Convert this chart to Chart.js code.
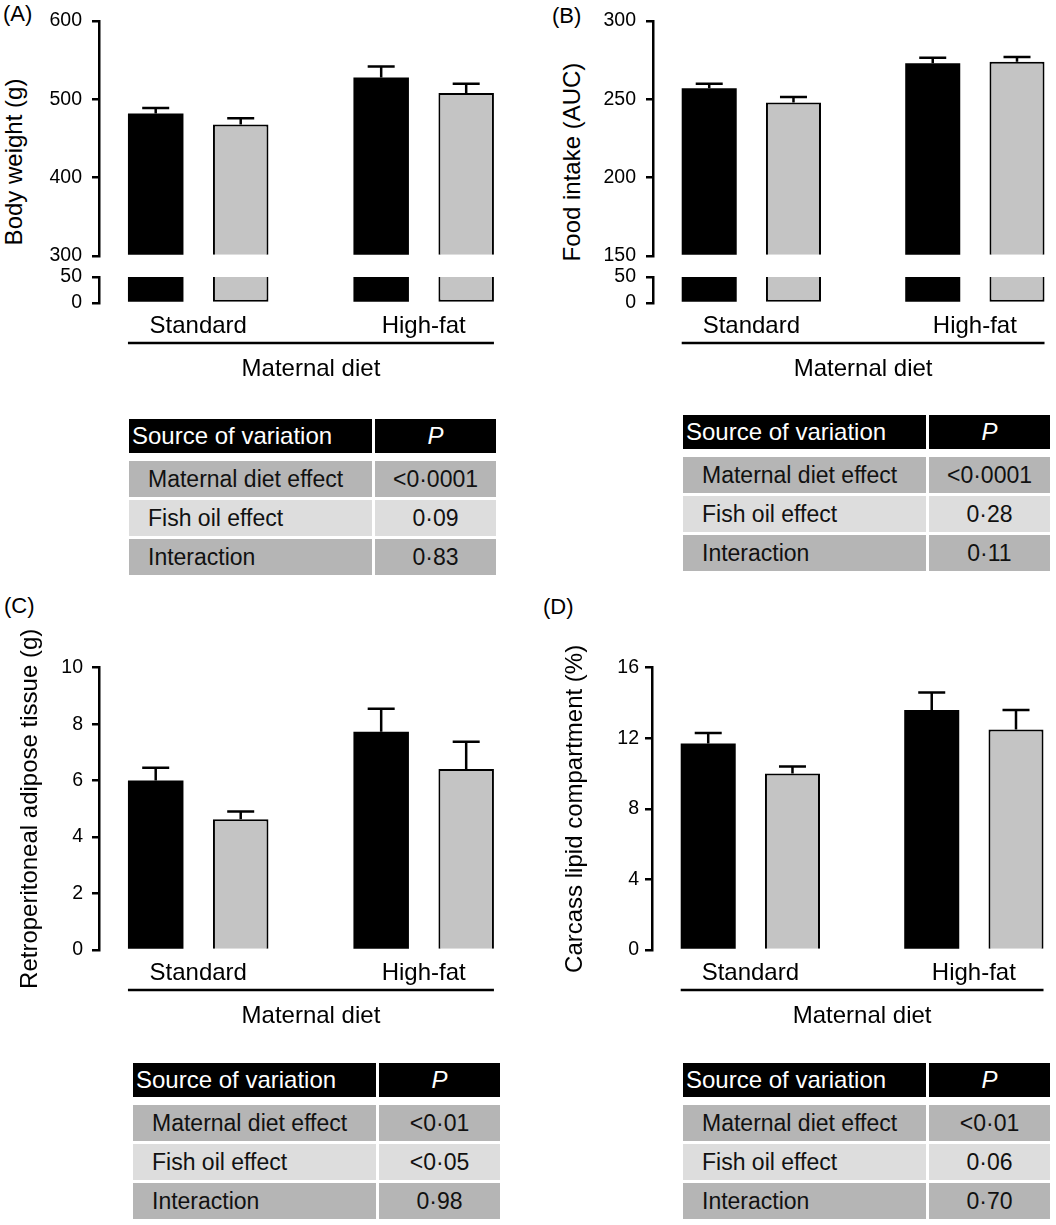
<!DOCTYPE html>
<html><head><meta charset="utf-8">
<script src="https://cdn.jsdelivr.net/npm/chart.js@4.4.1/dist/chart.umd.min.js"></script>
<style>
html,body{margin:0;padding:0;background:#fff;}
body{width:1056px;height:1225px;position:relative;overflow:hidden;font-family:'Liberation Sans',Arial,Helvetica,sans-serif;color:#000;}
canvas{position:absolute;}
.lab{position:absolute;font-size:22px;line-height:1;}
.ytitle{position:absolute;font-size:24px;line-height:1;white-space:nowrap;transform:translate(-50%,-50%) rotate(-90deg);}
.cell{position:absolute;box-sizing:border-box;display:flex;align-items:center;white-space:nowrap;}
</style></head><body>
<div class="lab" style="left:3px;top:3px;">(A)</div>
<div class="lab" style="left:552px;top:5px;">(B)</div>
<div class="lab" style="left:4px;top:595px;">(C)</div>
<div class="lab" style="left:543px;top:596px;">(D)</div>
<div class="ytitle" style="left:14px;top:162px;">Body weight (g)</div>
<div class="ytitle" style="left:572px;top:162px;">Food intake (AUC)</div>
<script>
// ---------- data ----------
const categories = ['Standard', 'High-fat'];
const seriesNames = ['Control', 'Fish oil'];
const groupTitle = 'Maternal diet';

// (A) Body weight (g)
const bodyWeightControl = [482, 528];
const bodyWeightFishOil = [468, 508];
const bodyWeightControlSE = [7, 14];
const bodyWeightFishOilSE = [8, 12];
const bodyWeightTicksUpper = [300, 400, 500, 600];
const bodyWeightTicksLower = [0, 50];

// (B) Food intake (AUC)
const foodIntakeControl = [257, 273];
const foodIntakeFishOil = [248, 274];
const foodIntakeControlSE = [3, 3.5];
const foodIntakeFishOilSE = [3.5, 3];
const foodIntakeTicksUpper = [150, 200, 250, 300];
const foodIntakeTicksLower = [0, 50];

// (C) Retroperitoneal adipose tissue (g)
const adiposeControl = [6.0, 7.73];
const adiposeFishOil = [4.63, 6.41];
const adiposeControlSE = [0.46, 0.82];
const adiposeFishOilSE = [0.28, 0.97];
const adiposeTicks = [0, 2, 4, 6, 8, 10];

// (D) Carcass lipid compartment (%)
const lipidControl = [11.7, 13.6];
const lipidFishOil = [10.0, 12.5];
const lipidControlSE = [0.6, 1.0];
const lipidFishOilSE = [0.4, 1.1];
const lipidTicks = [0, 4, 8, 12, 16];

// ANOVA tables
const tableHeader = ['Source of variation', 'P'];
const sources = ['Maternal diet effect', 'Fish oil effect', 'Interaction'];
const pValuesA = ['<0·0001', '0·09', '0·83'];
const pValuesB = ['<0·0001', '0·28', '0·11'];
const pValuesC = ['<0·01', '<0·05', '0·98'];
const pValuesD = ['<0·01', '0·06', '0·70'];

// ---------- drawing ----------
Chart.defaults.font.family = "'Liberation Sans', Arial, Helvetica, sans-serif";
Chart.defaults.color = '#000';

const errorBarsPlugin = {
  id: 'errorBars',
  afterDatasetsDraw(chart, args, opts) {
    const ctx = chart.ctx;
    chart.data.datasets.forEach((ds, di) => {
      if (!ds.errors) return;
      const meta = chart.getDatasetMeta(di);
      const yScale = chart.scales[meta.yAxisID];
      meta.data.forEach((bar, i) => {
        const v = ds.data[i].y;
        const top = yScale.getPixelForValue(v + ds.errors[i]);
        ctx.save();
        ctx.strokeStyle = '#000';
        ctx.lineWidth = opts.lineWidth;
        ctx.beginPath();
        ctx.moveTo(bar.x, bar.y);
        ctx.lineTo(bar.x, top);
        ctx.moveTo(bar.x - opts.capHalf, top);
        ctx.lineTo(bar.x + opts.capHalf, top);
        ctx.stroke();
        ctx.restore();
      });
    });
  }
};

const groupAxisPlugin = {
  id: 'groupAxis',
  afterDraw(chart, args, opts) {
    if (!opts || !opts.text) return;
    let l = Infinity, r = -Infinity;
    chart.getSortedVisibleDatasetMetas().forEach(m => m.data.forEach(b => {
      l = Math.min(l, b.x - b.width / 2);
      r = Math.max(r, b.x + b.width / 2);
    }));
    const ctx = chart.ctx;
    const yl = chart.chartArea.bottom + opts.lineOffset;
    ctx.save();
    ctx.strokeStyle = '#000';
    ctx.lineWidth = 2.5;
    ctx.beginPath();
    ctx.moveTo(l, yl);
    ctx.lineTo(r, yl);
    ctx.stroke();
    ctx.fillStyle = '#000';
    ctx.font = "24px 'Liberation Sans', Arial, sans-serif";
    ctx.textAlign = 'center';
    ctx.textBaseline = 'middle';
    ctx.fillText(opts.text, (l + r) / 2, chart.chartArea.bottom + opts.textOffset);
    ctx.restore();
  }
};

function addCanvas(left, top, w, h) {
  const c = document.createElement('canvas');
  c.width = w; c.height = h;
  c.style.left = left + 'px'; c.style.top = top + 'px';
  c.style.width = w + 'px'; c.style.height = h + 'px';
  document.body.appendChild(c);
  return c;
}

function makeChart(p) {
  const c = addCanvas(p.left, p.top, p.w, p.h);
  const yLo = p.yTicks[0], yHi = p.yTicks[p.yTicks.length - 1];
  const datasets = p.series.map((s, i) => ({
    label: seriesNames[i],
    data: s.vals.map((v, k) => ({ x: k, y: Math.min(v, yHi) })),
    errors: p.showErr ? s.se : null,
    backgroundColor: i === 0 ? '#000' : '#c4c4c4',
    borderColor: '#000',
    borderWidth: i === 0 ? 0 : 2,
    borderSkipped: p.skip,
    base: yLo,
    barPercentage: 0.653,
    categoryPercentage: 0.754
  }));
  return new Chart(c, {
    type: 'bar',
    data: { datasets },
    options: {
      responsive: false, animation: false, devicePixelRatio: 1,
      layout: { padding: { top: p.padTop, bottom: p.padBottom, left: 0, right: p.padRight } },
      plugins: {
        legend: { display: false }, tooltip: { enabled: false },
        errorBars: { lineWidth: 2.5, capHalf: 13.5 },
        groupAxis: p.group ? { text: groupTitle, lineOffset: 40, textOffset: 66 } : { text: null }
      },
      scales: {
        x: {
          type: 'linear', min: -0.44, max: 1.35, offset: false, display: p.showX,
          grid: { display: false, drawTicks: false }, border: { display: false },
          ticks: { stepSize: 1, includeBounds: false, autoSkip: false, maxRotation: 0, minRotation: 0,
                   padding: 9, font: { size: 24 }, color: '#000',
                   callback: v => (categories[v] !== undefined ? categories[v] : '') },
          afterFit: s => { s.height = p.xH; s.paddingLeft = 0; s.paddingRight = 0; }
        },
        y: {
          type: 'linear', min: yLo, max: yHi,
          afterBuildTicks: s => { s.ticks = p.yTicks.map(v => ({ value: v })); },
          grid: { drawOnChartArea: false, drawTicks: true, tickLength: 7, color: '#000', lineWidth: 2.5 },
          border: { display: true, color: '#000', width: 2.5 },
          ticks: { padding: p.tickPad, font: { size: 19.5 }, color: '#000', autoSkip: false },
          title: p.yTitle ? { display: true, text: p.yTitle, font: { size: 24 }, color: '#000',
                              padding: { top: p.titlePad, bottom: 0 } } : { display: false },
          afterFit: s => { s.width = p.yW; s.paddingTop = 0; s.paddingBottom = 0; }
        }
      }
    },
    plugins: [errorBarsPlugin, groupAxisPlugin]
  });
}

// (A) broken axis: upper and lower parts
makeChart({ left: 0, top: 0, w: 530, h: 272, padTop: 21, padBottom: 16, padRight: 27.4, yW: 99, xH: 0,
  showX: false, yTicks: bodyWeightTicksUpper, tickPad: 10, skip: 'start', showErr: true,
  series: [{ vals: bodyWeightControl, se: bodyWeightControlSE }, { vals: bodyWeightFishOil, se: bodyWeightFishOilSE }] });
makeChart({ left: 0, top: 262, w: 530, h: 133, padTop: 15, padBottom: 0, padRight: 27.4, yW: 99, xH: 92,
  showX: true, yTicks: bodyWeightTicksLower, tickPad: 10, skip: 'end', showErr: false, group: true,
  series: [{ vals: bodyWeightControl }, { vals: bodyWeightFishOil }] });

// (B)
makeChart({ left: 530, top: 0, w: 526, h: 272, padTop: 21, padBottom: 16, padRight: 2.9, yW: 123, xH: 0,
  showX: false, yTicks: foodIntakeTicksUpper, tickPad: 10, skip: 'start', showErr: true,
  series: [{ vals: foodIntakeControl, se: foodIntakeControlSE }, { vals: foodIntakeFishOil, se: foodIntakeFishOilSE }] });
makeChart({ left: 530, top: 262, w: 526, h: 133, padTop: 15, padBottom: 0, padRight: 2.9, yW: 123, xH: 92,
  showX: true, yTicks: foodIntakeTicksLower, tickPad: 10, skip: 'end', showErr: false, group: true,
  series: [{ vals: foodIntakeControl }, { vals: foodIntakeFishOil }] });

// (C)
makeChart({ left: 0, top: 590, w: 530, h: 445, padTop: 77.7, padBottom: 0, padRight: 27.4, yW: 99, xH: 85,
  showX: true, yTicks: adiposeTicks, tickPad: 9, skip: 'start', showErr: true, group: true,
  yTitle: 'Retroperitoneal adipose tissue (g)', titlePad: 16,
  series: [{ vals: adiposeControl, se: adiposeControlSE }, { vals: adiposeFishOil, se: adiposeFishOilSE }] });

// (D)
makeChart({ left: 530, top: 590, w: 526, h: 445, padTop: 77.7, padBottom: 0, padRight: 3.9, yW: 122, xH: 85,
  showX: true, yTicks: lipidTicks, tickPad: 6, skip: 'start', showErr: true, group: true,
  yTitle: 'Carcass lipid compartment (%)', titlePad: 30.6,
  series: [{ vals: lipidControl, se: lipidControlSE }, { vals: lipidFishOil, se: lipidFishOilSE }] });

// ---------- tables ----------
function cell(left, top, w, h, bg, html, color, align, padL, size, italic) {
  const d = document.createElement('div');
  d.className = 'cell';
  d.style.cssText += `left:${left}px;top:${top}px;width:${w}px;height:${h}px;background:${bg};color:${color};` +
    `justify-content:${align};padding-left:${padL}px;font-size:${size}px;` + (italic ? 'font-style:italic;' : '');
  d.textContent = html;
  document.body.appendChild(d);
}
function makeTable(left, top, pvals) {
  const w1 = 243, w2 = 121, gap = 3, headH = 34, rowH = 36, headGap = 8, rowGap = 3;
  cell(left, top, w1, headH, '#000', tableHeader[0], '#fff', 'flex-start', 3, 24, false);
  cell(left + w1 + gap, top, w2, headH, '#000', tableHeader[1], '#fff', 'center', 0, 24, true);
  sources.forEach((s, i) => {
    const y = top + headH + headGap + i * (rowH + rowGap);
    const bg = i % 2 === 0 ? '#b5b5b5' : '#dddddd';
    cell(left, y, w1, rowH, bg, s, '#111', 'flex-start', 19, 23, false);
    cell(left + w1 + gap, y, w2, rowH, bg, pvals[i], '#111', 'center', 0, 23, false);
  });
}
makeTable(129, 419, pValuesA);
makeTable(683, 415, pValuesB);
makeTable(133, 1063, pValuesC);
makeTable(683, 1063, pValuesD);
</script>
</body></html>
